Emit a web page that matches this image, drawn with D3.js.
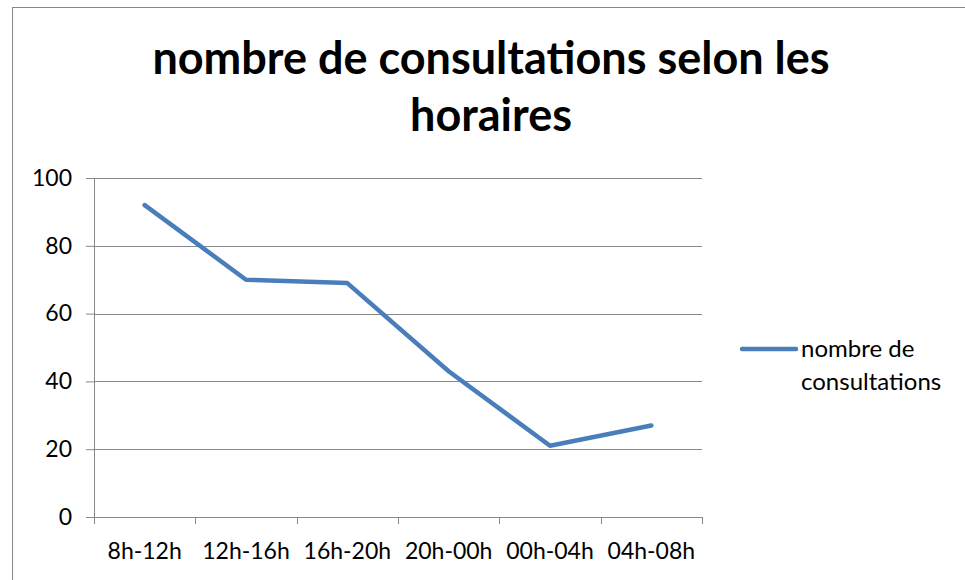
<!DOCTYPE html>
<html>
<head>
<meta charset="utf-8">
<script src="https://cdn.jsdelivr.net/npm/d3@7"></script>
<style>
  body { margin: 0; background: #fff; }
  text { font-family: Lato, "Open Sans", sans-serif; }
</style>
</head>
<body>
<div id="chart"></div>
<script>
const categories = ["8h-12h", "12h-16h", "16h-20h", "20h-00h", "00h-04h", "04h-08h"];
const values = [92, 70, 69, 43, 21, 27];
const yTicks = [0, 20, 40, 60, 80, 100];
const titleLines = ["nombre de consultations selon les", "horaires"];
const seriesName = ["nombre de", "consultations"];

const W = 965, H = 580;
const margin = { top: 178, right: 263, bottom: 63, left: 94 };
const width = W - margin.left - margin.right,
  height = H - margin.top - margin.bottom;

const svg = d3.select("#chart").append("svg")
  .attr("width", W).attr("height", H);

// outer frame
svg.append("rect")
  .attr("x", 12.5).attr("y", 7.5)
  .attr("width", W).attr("height", H)
  .attr("fill", "none").attr("stroke", "#888").attr("stroke-width", 1);

// title
svg.append("text")
  .attr("x", 491).attr("y", 74)
  .attr("text-anchor", "middle")
  .style("font-size", "45px").style("font-weight", "bold")
  .selectAll("tspan").data(titleLines).enter().append("tspan")
  .attr("x", 491).attr("dy", (d, i) => i ? 57 : 0)
  .text(d => d);

const g = svg.append("g").attr("transform", `translate(${margin.left},${margin.top})`);

const x = d3.scaleBand().domain(categories).range([0, width]);
const y = d3.scaleLinear().domain([0, 100]).range([height, 0]);

// y axis + gridlines
const yAxis = g.append("g").call(d3.axisLeft(y).tickValues(yTicks).tickSize(8).tickPadding(14));
yAxis.select(".domain").attr("stroke", "#888");
yAxis.selectAll(".tick line").attr("stroke", "#888");
yAxis.selectAll("text").style("font-size", "23px").attr("fill", "#000");

g.append("g").selectAll("line").data(yTicks.filter(d => d > 0)).enter().append("line")
  .attr("x1", 0).attr("x2", width)
  .attr("y1", d => Math.round(y(d)) + 0.5).attr("y2", d => Math.round(y(d)) + 0.5)
  .attr("stroke", "#888");

// x axis with ticks at band edges
const xAxis = g.append("g").attr("transform", `translate(0,${height})`)
  .call(d3.axisBottom(x).tickSize(0).tickPadding(26));
xAxis.select(".domain").attr("stroke", "#888");
xAxis.selectAll("text").style("font-size", "23px").attr("fill", "#000");
const edges = categories.map(c => x(c)).concat([width]);
xAxis.selectAll(".edge").data(edges).enter().append("line")
  .attr("class", "edge")
  .attr("x1", d => Math.round(d) + 0.5).attr("x2", d => Math.round(d) + 0.5)
  .attr("y1", 0).attr("y2", 7)
  .attr("stroke", "#888");

// line
g.append("path").datum(values)
  .attr("fill", "none")
  .attr("stroke", "#4a7ebb")
  .attr("stroke-width", 4.5)
  .attr("stroke-linecap", "round")
  .attr("stroke-linejoin", "round")
  .attr("d", d3.line()
    .x((d, i) => x(categories[i]) + x.bandwidth() / 2)
    .y(d => y(d)));

// legend
const lg = svg.append("g").attr("transform", "translate(742,349)");
lg.append("line").attr("x1", 0).attr("x2", 54).attr("y1", 0).attr("y2", 0)
  .attr("stroke", "#4a7ebb").attr("stroke-width", 4.5).attr("stroke-linecap", "round");
lg.append("text").attr("x", 59).attr("y", 8)
  .style("font-size", "24px")
  .selectAll("tspan").data(seriesName).enter().append("tspan")
  .attr("x", 59).attr("dy", (d, i) => i ? 33 : 0)
  .text(d => d);
</script>
</body>
</html>
